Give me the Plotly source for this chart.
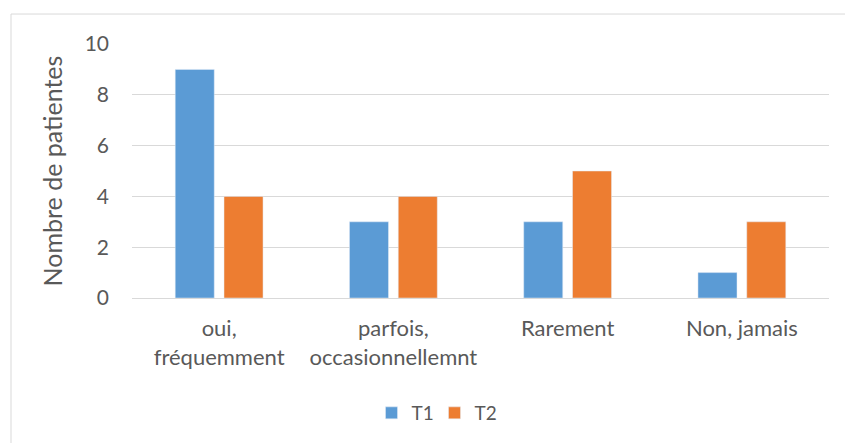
import plotly.graph_objects as go

categories = ["oui,<br>fréquemment", "parfois,<br>occasionnellemnt", "Rarement", "Non, jamais"]
t1_values = [9, 3, 3, 1]
t2_values = [4, 4, 5, 3]
y_ticks = [0, 2, 4, 6, 8, 10]

FONT = "Lato"
TXT = "#595959"
BORDER = "#D9D9D9"

fig = go.Figure()
fig.add_trace(go.Bar(name="T1", x=categories, y=t1_values, marker_color="#5B9BD5"))
fig.add_trace(go.Bar(name="T2", x=categories, y=t2_values, marker_color="#ED7D31"))

fig.update_layout(
    width=845, height=443,
    margin=dict(l=132, r=16, t=44, b=145, autoexpand=False),
    paper_bgcolor="white", plot_bgcolor="white",
    barmode="group", bargap=0.44, bargroupgap=0.2,
    font=dict(family=FONT, size=22, color=TXT),
    showlegend=True,
    legend=dict(orientation="h", x=0.434, xanchor="center", y=-0.378, yanchor="top",
                font=dict(size=19, color=TXT), itemwidth=30, entrywidth=18),
    xaxis=dict(showgrid=False, showline=False, ticks="", tickfont=dict(size=22, color=TXT),
               ticklabelstandoff=15),
    yaxis=dict(range=[0, 10], tickvals=y_ticks, showgrid=True, gridcolor=BORDER, gridwidth=1,
               zeroline=True, zerolinecolor=BORDER, zerolinewidth=1,
               showline=False, ticks="", ticklabelstandoff=22,
               tickfont=dict(size=21, color=TXT),
               title=dict(text="Nombre de patientes", font=dict(size=25, color=TXT), standoff=14)),
    shapes=[
        dict(type="line", xref="paper", yref="paper", x0=-0.1736, x1=1.2, y0=1.118, y1=1.118,
             line=dict(color=BORDER, width=1), layer="below"),
        dict(type="line", xref="paper", yref="paper", x0=-0.1736, x1=-0.1736, y0=-0.7, y1=1.118,
             line=dict(color=BORDER, width=1), layer="below"),
    ],
)

fig.write_html(
    "out.html",
    config={"displayModeBar": False},
    post_script="document.body.style.margin='0';document.body.style.overflow='hidden';",
)
